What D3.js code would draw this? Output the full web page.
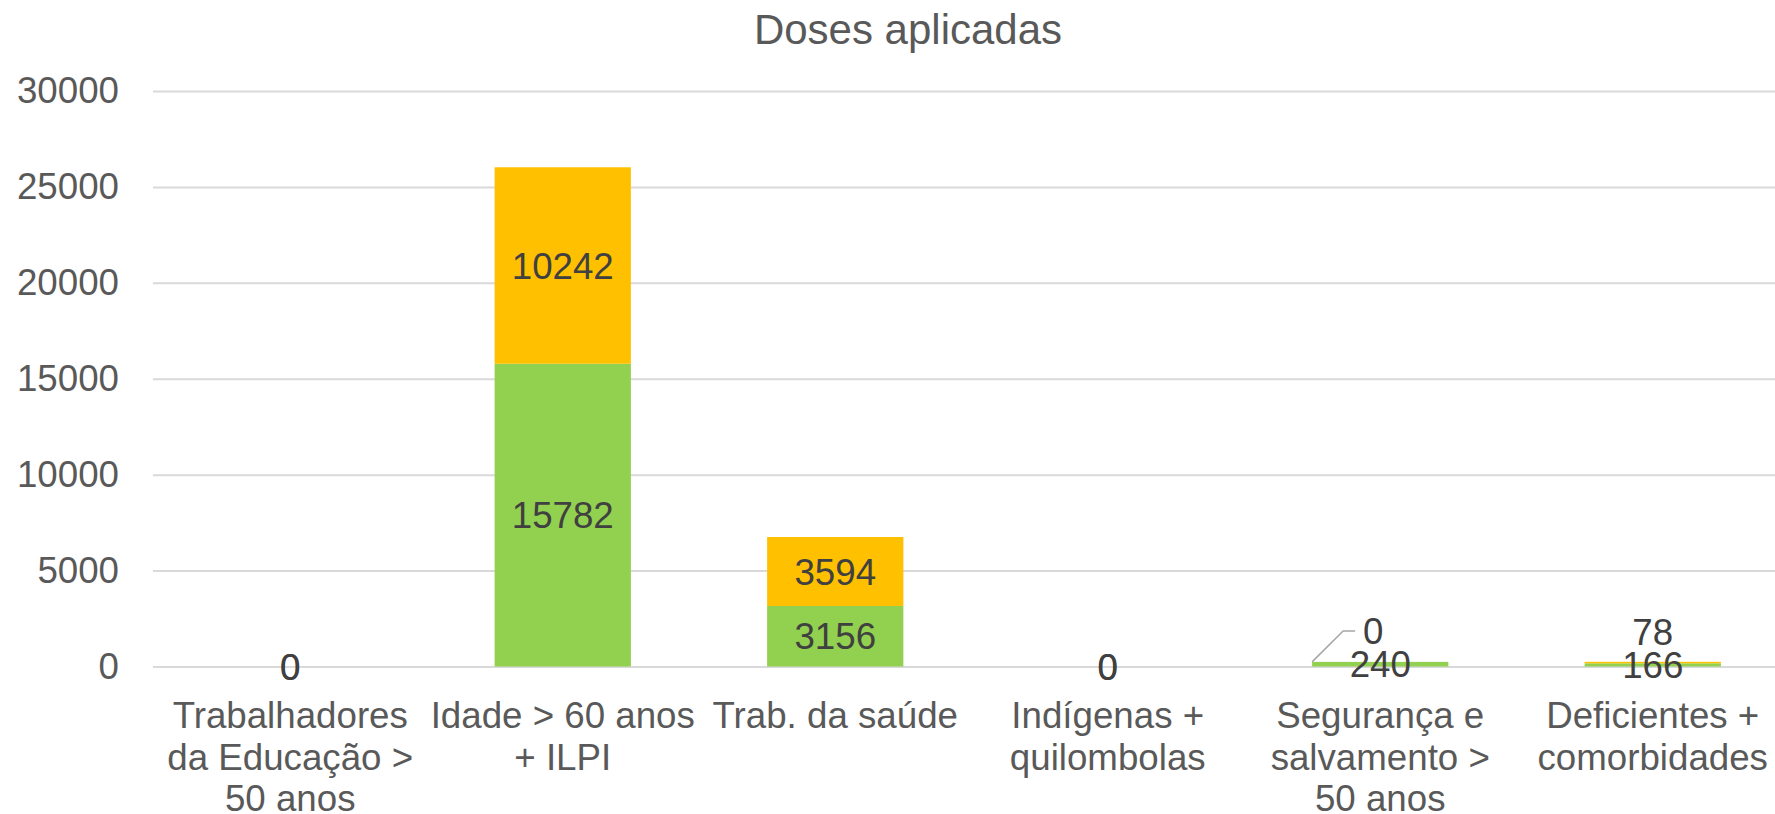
<!DOCTYPE html>
<html>
<head>
<meta charset="utf-8">
<script src="https://cdn.jsdelivr.net/npm/d3@7"></script>
<style>
  body { margin: 0; background: #fff; }
  text { font-family: "Liberation Sans", Arial, sans-serif; }
</style>
</head>
<body>
<div id="chart"></div>
<script>
// Data
var categories = ["Trabalhadores da Educação > 50 anos", "Idade > 60 anos + ILPI", "Trab. da saúde",
                  "Indígenas + quilombolas", "Segurança e salvamento > 50 anos", "Deficientes + comorbidades"];
var categoryLines = [
  ["Trabalhadores", "da Educação >", "50 anos"],
  ["Idade > 60 anos", "+ ILPI"],
  ["Trab. da saúde"],
  ["Indígenas +", "quilombolas"],
  ["Segurança e", "salvamento >", "50 anos"],
  ["Deficientes +", "comorbidades"]
];
var dose1 = [0, 15782, 3156, 0, 240, 166];
var dose2 = [0, 10242, 3594, 0, 0, 78];
var yTicks = [0, 5000, 10000, 15000, 20000, 25000, 30000];

// Parameters
var width = 1775;
var height = 814;
var plotLeft = 154;
var plotRight = 1789;
var plotTop = 91;
var plotBottom = 666.5;
var green = "#92D050";
var orange = "#FFC000";

var svg = d3.select("#chart").append("svg")
    .attr("width", width)
    .attr("height", height);

var xScale = d3.scaleBand().domain(categories).range([plotLeft, plotRight]).paddingInner(0.5).paddingOuter(0.25);
var yScale = d3.scaleLinear().domain([0, 30000]).range([plotBottom, plotTop]);

// Title
svg.append("text")
    .attr("x", 908).attr("y", 44)
    .attr("text-anchor", "middle")
    .attr("font-size", 42)
    .attr("fill", "#595959")
    .text("Doses aplicadas");

// Gridlines + y labels
var yAxis = d3.axisLeft(yScale).tickValues(yTicks).tickFormat(d3.format("d"))
    .tickSize(-(width - 153)).tickPadding(34);
var gy = svg.append("g").attr("transform", "translate(153,0)").call(yAxis);
gy.select(".domain").remove();
gy.selectAll(".tick line").attr("stroke", "#D9D9D9").attr("stroke-width", 2);
gy.selectAll(".tick text")
    .attr("font-size", 36.7)
    .attr("fill", "#595959")
    .attr("font-family", "Liberation Sans, Arial, sans-serif");

// Stacked bars
var rows = categories.map(function(c, i){
    return { cat: c, d1: dose1[i], d2: dose2[i] };
});

var bars = svg.append("g");
rows.forEach(function(d){
    var x = xScale(d.cat);
    var w = xScale.bandwidth();
    bars.append("rect")
        .attr("x", x).attr("width", w)
        .attr("y", yScale(d.d1))
        .attr("height", yScale(0) - yScale(d.d1))
        .attr("fill", green);
    bars.append("rect")
        .attr("x", x).attr("width", w)
        .attr("y", yScale(d.d1 + d.d2))
        .attr("height", yScale(d.d1) - yScale(d.d1 + d.d2))
        .attr("fill", orange);
});

// Data labels
var labels = svg.append("g")
    .attr("font-size", 36.7)
    .attr("fill", "#404040")
    .attr("text-anchor", "middle");

rows.forEach(function(d, i){
    var cx = xScale(d.cat) + xScale.bandwidth() / 2;
    var yMid1 = (yScale(0) + yScale(d.d1)) / 2;
    var yMid2 = (yScale(d.d1) + yScale(d.d1 + d.d2)) / 2;
    labels.append("text").attr("x", cx).attr("y", yMid1).attr("dy", "0.36em").text(d.d1);

    if (i === 4) {
        // label moved up with leader line
        var bx = xScale(d.cat);
        var ly = yMid2 - 31;
        svg.append("polyline")
            .attr("points", [[bx, yScale(d.d1 + d.d2)], [bx + 31, ly], [bx + 43, ly]].join(" "))
            .attr("fill", "none")
            .attr("stroke", "#A6A6A6")
            .attr("stroke-width", 1.5);
        labels.append("text").attr("x", cx - 7).attr("y", ly).attr("dy", "0.36em").text(d.d2);
    } else if (i === 5) {
        labels.append("text").attr("x", cx).attr("y", yMid2 - 31).attr("dy", "0.36em").text(d.d2);
    } else {
        labels.append("text").attr("x", cx).attr("y", yMid2).attr("dy", "0.36em").text(d.d2);
    }
});

// Category labels
var xLab = svg.append("g")
    .attr("font-size", 36.7)
    .attr("fill", "#595959")
    .attr("text-anchor", "middle");

rows.forEach(function(d, i){
    var cx = xScale(d.cat) + xScale.bandwidth() / 2;
    var t = xLab.append("text").attr("x", cx).attr("y", 728);
    categoryLines[i].forEach(function(line, j){
        t.append("tspan").attr("x", cx).attr("dy", j === 0 ? 0 : 41.5).text(line);
    });
});
</script>
</body>
</html>
